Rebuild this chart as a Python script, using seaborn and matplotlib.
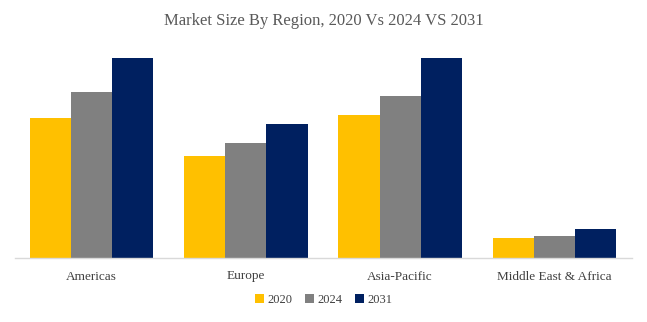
import matplotlib
matplotlib.use("Agg")
import matplotlib.pyplot as plt
import seaborn as sns
import pandas as pd

regions = ["Americas", "Europe", "Asia-Pacific", "Middle East & Africa"]
years = ["2020", "2024", "2031"]
v2020 = [140, 102, 143, 20]
v2024 = [166, 115, 162, 22]
v2031 = [200, 134, 200, 29]
colors = ["#FFC000", "#808080", "#002060"]

df = pd.DataFrame({
    "Region": regions * 3,
    "Year": [years[0]] * 4 + [years[1]] * 4 + [years[2]] * 4,
    "Value": v2020 + v2024 + v2031,
})

sns.set_theme(style="white")
plt.rcParams["font.family"] = ["Liberation Serif", "DejaVu Serif"]

W, H = 647, 322
fig = plt.figure(figsize=(W / 100, H / 100), dpi=100)
ax = fig.add_axes([14.5 / W, (H - 258) / H, 617 / W, 200 / H])

sns.barplot(data=df, x="Region", y="Value", hue="Year", palette=colors,
            width=0.8, saturation=1, ax=ax, legend=False, linewidth=0)

ax.set_ylim(0, 200)
ax.set_xlim(-0.5, 3.5)
ax.set_xlabel("")
ax.set_ylabel("")
ax.set_yticks([])
for s in ["top", "right", "left"]:
    ax.spines[s].set_visible(False)
ax.spines["bottom"].set_color("#D9D9D9")
ax.spines["bottom"].set_linewidth(1)
ax.tick_params(axis="x", length=0, pad=9, labelsize=9.5, labelcolor="#404040")

fig.text(0.5, 1 - 21 / H, "Market Size By Region, 2020 Vs 2024 VS 2031",
         ha="center", va="center", fontsize=12, color="#595959")

from matplotlib.patches import Patch
handles = [Patch(facecolor=c, edgecolor="none") for c in colors]
fig.legend(handles, years, loc="center", bbox_to_anchor=(0.5, 1 - 300 / H),
           ncol=3, frameon=False, fontsize=9, handlelength=0.7, handleheight=0.7,
           handletextpad=0.3, columnspacing=1.0, labelcolor="#404040")

fig.savefig("out.png", dpi=100)
